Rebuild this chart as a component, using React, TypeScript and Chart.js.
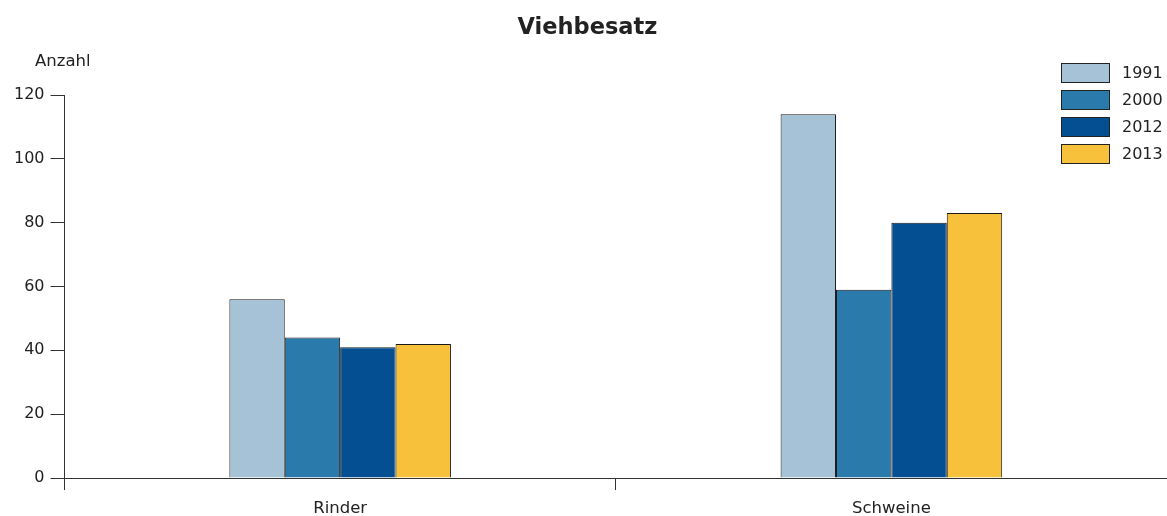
import React, { useEffect, useRef } from "react";
import { Chart, registerables } from "chart.js";

Chart.register(...registerables);

const categories = ["Rinder", "Schweine"];
const seriesLabels = ["1991", "2000", "2012", "2013"];
const values1991 = [56, 114];
const values2000 = [44, 59];
const values2012 = [41, 80];
const values2013 = [42, 83];
const seriesColors = ["#a5c2d7", "#2a7aab", "#034f92", "#f8c13b"];
const yTicks = [0, 20, 40, 60, 80, 100, 120];
const chartTitle = "Viehbesatz";
const yAxisTitle = "Anzahl";

const FONT = "'DejaVu Sans', 'Liberation Sans', Arial, sans-serif";
const TEXT = "#222222";
const AXIS = "#333333";

const extrasPlugin = {
  id: "extras",
  afterDraw(chart: any) {
    const ctx = chart.ctx;
    ctx.save();
    // y axis title
    ctx.font = `16.5px ${FONT}`;
    ctx.fillStyle = TEXT;
    ctx.textAlign = "left";
    ctx.textBaseline = "middle";
    ctx.fillText(yAxisTitle, 35, 62);
    // legend
    const boxW = 49;
    const boxH = 20;
    const x0 = chart.width - 106;
    const y0 = 63;
    const step = 27;
    chart.data.datasets.forEach((ds: any, i: number) => {
      const y = y0 + i * step;
      ctx.fillStyle = ds.backgroundColor;
      ctx.fillRect(x0, y, boxW, boxH);
      ctx.strokeStyle = "#222222";
      ctx.lineWidth = 1;
      ctx.strokeRect(x0 + 0.5, y + 0.5, boxW - 1, boxH - 1);
      ctx.fillStyle = TEXT;
      ctx.font = `16px ${FONT}`;
      ctx.textAlign = "left";
      ctx.textBaseline = "middle";
      ctx.fillText(ds.label, x0 + 61, y + boxH / 2 + 1);
    });
    ctx.restore();
  },
};

export default function App() {
  const canvasRef = useRef<HTMLCanvasElement | null>(null);

  useEffect(() => {
    document.body.style.margin = "0";
    const canvas = canvasRef.current;
    if (!canvas) return;
    const seriesValues = [values1991, values2000, values2012, values2013];
    const chart = new Chart(canvas, {
      type: "bar",
      data: {
        labels: categories,
        datasets: seriesLabels.map((label, i) => ({
          label,
          data: seriesValues[i],
          backgroundColor: seriesColors[i],
          borderColor: "#1a1a1a",
          borderWidth: 1,
          categoryPercentage: 0.402,
          barPercentage: 1.0,
        })),
      },
      options: {
        animation: false,
        responsive: false,
        maintainAspectRatio: false,
        layout: { padding: { left: 8, right: 0, top: 0, bottom: 0 } },
        plugins: {
          legend: { display: false },
          tooltip: { enabled: false },
          title: {
            display: true,
            text: chartTitle,
            color: TEXT,
            font: { family: FONT, size: 22.5, weight: "bold" },
            padding: { top: 15, bottom: 53 },
          },
        },
        scales: {
          x: {
            offset: true,
            afterFit: (scale: any) => {
              scale.height = 38;
            },
            grid: {
              display: true,
              offset: true,
              drawOnChartArea: false,
              drawTicks: true,
              tickLength: 12,
              color: AXIS,
            },
            border: { display: true, color: AXIS, width: 1 },
            ticks: {
              color: TEXT,
              font: { family: FONT, size: 16.5 },
              padding: 9,
            },
          },
          y: {
            min: 0,
            max: 120,
            afterBuildTicks: (scale: any) => {
              scale.ticks = yTicks.map((v) => ({ value: v }));
            },
            grid: {
              display: true,
              drawOnChartArea: false,
              drawTicks: true,
              tickLength: 14,
              color: AXIS,
            },
            border: { display: true, color: AXIS, width: 1 },
            ticks: {
              color: TEXT,
              font: { family: FONT, size: 16 },
              padding: 6,
            },
          },
        },
      },
      plugins: [extrasPlugin],
    });
    return () => chart.destroy();
  }, []);

  return (
    <div style={{ width: 1167, height: 516, position: "relative" }}>
      <canvas ref={canvasRef} width={1167} height={516} style={{ width: 1167, height: 516 }} />
    </div>
  );
}
